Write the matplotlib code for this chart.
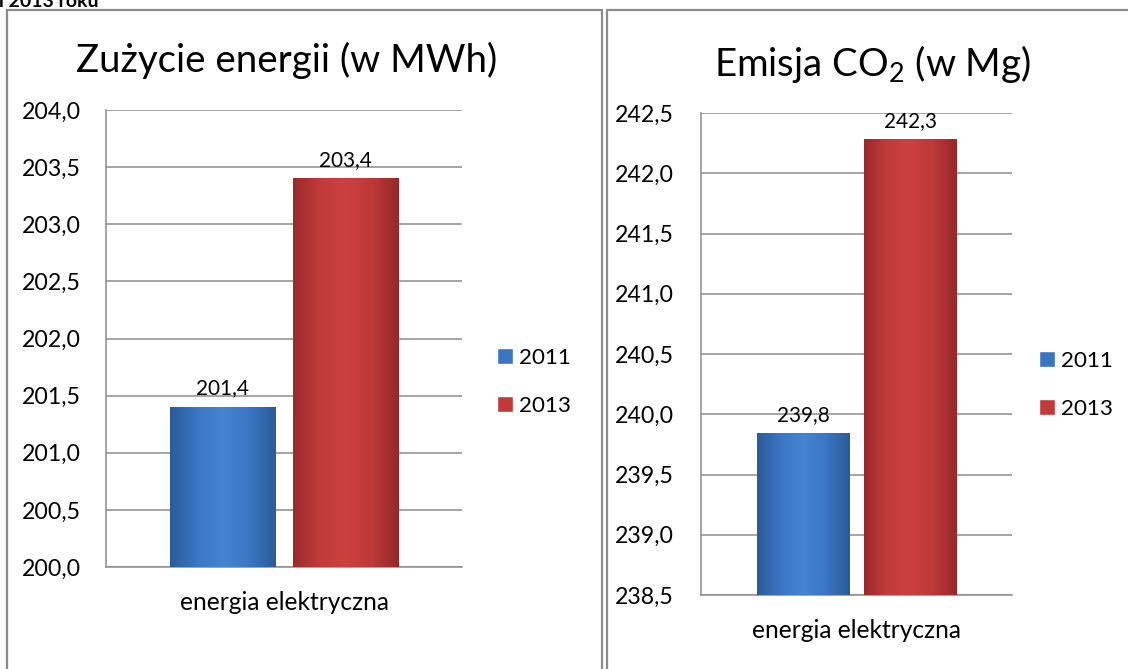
import numpy as np
import matplotlib
matplotlib.use("Agg")
import matplotlib.pyplot as plt
from matplotlib.patches import Rectangle
from matplotlib.ticker import FuncFormatter, MultipleLocator
from matplotlib.colors import LinearSegmentedColormap

plt.rcParams['font.family'] = ['Lato', 'DejaVu Sans']
plt.rcParams['mathtext.fontset'] = 'custom'
plt.rcParams['mathtext.rm'] = 'Lato'
plt.rcParams['mathtext.it'] = 'Lato:italic'
plt.rcParams['mathtext.bf'] = 'Lato:bold'

# ---- data ----
years = ["2011", "2013"]
category = ["energia elektryczna"]
energy_values = [201.4, 203.4]
co2_values = [239.84, 242.28]
energy_ylim = (200.0, 204.0)
co2_ylim = (238.5, 242.5)
title_energy = "Zużycie energii (w MWh)"
title_co2 = "Emisja CO$_{\\mathrm{2}}$ (w Mg)"
header_text = "i 2013 roku"

W, H = 1128, 669
fig = plt.figure(figsize=(W / 100, H / 100), dpi=100)
renderer = fig.canvas.get_renderer()


def fx(px):
    return px / W


def fy(py):
    return 1 - py / H


def fit_size(text, target_px, **kw):
    t = fig.text(0, 0, text, fontsize=10, **kw)
    w = t.get_window_extent(renderer=renderer).width
    t.remove()
    return 10 * target_px / w


def fmt(v):
    return f"{v:.1f}".replace('.', ',')


fs_tick = fit_size("204,0", 59)
fs_data = fit_size("201,4", 53)
fs_cat = fit_size(category[0], 209)
fs_leg = fit_size("2013", 52)
fs_title = 0.5 * (fit_size(title_energy, 390) + fit_size(title_co2, 345))

# panel borders
for (x0, y0, x1, y1) in [(7, 10, 602, 700), (607, 10, 1150, 700)]:
    fig.patches.append(Rectangle((fx(x0), fy(y1)), fx(x1 - x0), (y1 - y0) / H,
                                 transform=fig.transFigure, fill=False,
                                 edgecolor='#8c8c8c', linewidth=1.6))

# header text cut by the top edge
fig.text(fx(-1), fy(7), header_text, fontsize=14, fontweight='bold',
         ha='left', va='baseline')

blue_cmap = LinearSegmentedColormap.from_list(
    'b', ['#2b5b98', '#3b76c3', '#4684d0', '#3b76c3', '#2b5b98'])
red_cmap = LinearSegmentedColormap.from_list(
    'r', ['#9a2a2a', '#c23a3a', '#cc4040', '#bd3838', '#962828'])
cmaps = [blue_cmap, red_cmap]
base_colors = ['#3b74bf', '#c03a3a']


def make_panel(box, values, ylim, title, title_x, title_base, legend_x, legend_ymid,
               tick_pad_px):
    x0, y0, x1, y1 = box
    ax = fig.add_axes([fx(x0), fy(y1), fx(x1 - x0), (y1 - y0) / H])
    width = 0.296
    offs = [-0.172, 0.172]
    for i, (v, o) in enumerate(zip(values, offs)):
        b = ax.bar(o, v - ylim[0], width, bottom=ylim[0], color=base_colors[i],
                   label=years[i], zorder=3, edgecolor='none')
        p = b.patches[0]
        grad = np.linspace(0, 1, 128).reshape(1, -1)
        ax.imshow(grad, cmap=cmaps[i], aspect='auto', zorder=3.5, interpolation='bilinear',
                  extent=(p.get_x(), p.get_x() + p.get_width(),
                          p.get_y(), p.get_y() + p.get_height()))
        ax.annotate(fmt(v), (p.get_x() + p.get_width() / 2, p.get_y() + p.get_height()),
                    xytext=(0, 9), textcoords='offset points',
                    ha='center', va='baseline', fontsize=fs_data, zorder=5)
    ax.set_xlim(-0.5, 0.5)
    ax.set_ylim(*ylim)
    ax.yaxis.set_major_locator(MultipleLocator(0.5))
    ax.yaxis.set_major_formatter(FuncFormatter(lambda v, p: fmt(v)))
    ax.grid(axis='y', color='#8c8c8c', linewidth=1.1, zorder=1)
    ax.set_axisbelow(True)
    for s in ['top', 'right']:
        ax.spines[s].set_visible(False)
    for s in ['left', 'bottom']:
        ax.spines[s].set_color('#8c8c8c')
        ax.spines[s].set_linewidth(1.1)
    ax.tick_params(axis='y', length=0, labelsize=fs_tick, pad=tick_pad_px * 0.72)
    ax.set_xticks([])
    fig.text(fx((x0 + x1) / 2), fy(y1 + 36), category[0], ha='center', va='center',
             fontsize=fs_cat)
    fig.text(fx(title_x), fy(title_base), title, ha='center', va='baseline',
             fontsize=fs_title)
    handles = [Rectangle((0, 0), 1, 1, facecolor=base_colors[i], edgecolor='#ffffff')
               for i in range(2)]
    fs_px = fs_leg / 0.72
    fig.legend(handles, years, loc='center left',
               bbox_to_anchor=(fx(legend_x), fy(legend_ymid)),
               frameon=False, fontsize=fs_leg, handlelength=16 / fs_px,
               handleheight=16 / fs_px, handletextpad=6 / fs_px,
               labelspacing=(48 - 0.9 * fs_px) / fs_px, borderpad=0, borderaxespad=0)
    return ax


make_panel((106, 110, 462, 567), energy_values, energy_ylim, title_energy,
           287, 72, 497, 382, 25)
make_panel((701, 113, 1012, 595), co2_values, co2_ylim, title_co2,
           873, 76, 1039, 385, 27)

fig.savefig("out.png", dpi=100)
